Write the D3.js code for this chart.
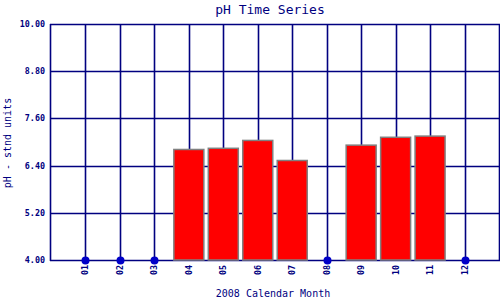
<!DOCTYPE html>
<html><head><meta charset="utf-8">
<script src="https://cdn.jsdelivr.net/npm/d3@7"></script>
<style>body{margin:0;background:#fff}svg{display:block}</style>
</head><body>
<svg id="c" width="500" height="300"></svg>
<script>
const months = ["01","02","03","04","05","06","07","08","09","10","11","12"];
const phValues = [null,null,null,6.81,6.84,7.04,6.53,null,6.92,7.12,7.15,null];
const yTicks = [4.0,5.2,6.4,7.6,8.8,10.0];
const title = "pH Time Series";
const xTitle = "2008 Calendar Month";
const yTitle = "pH - stnd units";

const svg = d3.select("#c");
const navy = "#000080";
const font = "'DejaVu Sans Mono', monospace";
const L = 50, R = 499, T = 24, B = 260;
const x = d3.scaleLinear().domain([0, 13]).range([51, R]);
const y = d3.scaleLinear().domain([4, 10]).range([B, T]);
const px = v => Math.round(v) + 0.5;
const SW = 1.6;

svg.append("rect").attr("x", L).attr("y", T).attr("width", R - L).attr("height", B - T).attr("fill", "#fff");

const g = svg.append("g");
g.selectAll("line.h").data(yTicks).join("line")
  .attr("x1", L).attr("x2", R + 1).attr("y1", d => px(y(d))).attr("y2", d => px(y(d)))
  .attr("stroke", navy).attr("stroke-width", SW);
g.selectAll("line.v").data(months.map((m, i) => i + 1)).join("line")
  .attr("x1", d => px(x(d))).attr("x2", d => px(x(d))).attr("y1", T).attr("y2", B + 1)
  .attr("stroke", navy).attr("stroke-width", SW);
g.append("line").attr("x1", L + 0.5).attr("x2", L + 0.5).attr("y1", T).attr("y2", B + 1).attr("stroke", navy).attr("stroke-width", SW);
g.append("line").attr("x1", R + 0.5).attr("x2", R + 0.5).attr("y1", T).attr("y2", B + 1).attr("stroke", navy).attr("stroke-width", SW);

const data = months.map((m, i) => ({ m, i: i + 1, v: phValues[i] }));
svg.selectAll("rect.bar").data(data.filter(d => d.v != null)).join("rect")
  .attr("class", "bar")
  .attr("x", d => x(d.i) - 15).attr("width", 30)
  .attr("y", d => y(d.v)).attr("height", d => y(4) - y(d.v))
  .attr("fill", "#ff0000").attr("stroke", "#808080").attr("stroke-width", 1.5);
svg.selectAll("circle").data(data.filter(d => d.v == null)).join("circle")
  .attr("cx", d => px(x(d.i))).attr("cy", B + 0.5).attr("r", 4).attr("fill", "#0000c8");

svg.selectAll("text.yt").data(yTicks).join("text")
  .attr("x", 45).attr("y", d => y(d)).attr("dy", "0.35em")
  .attr("text-anchor", "end").attr("font-family", font).attr("font-size", 8.4)
  .attr("font-weight", "bold").attr("fill", navy).text(d => d.toFixed(2));
svg.selectAll("text.xt").data(data).join("text")
  .attr("transform", d => `translate(${x(d.i) + 3},265) rotate(-90)`)
  .attr("text-anchor", "end").attr("font-family", font).attr("font-size", 8.4)
  .attr("font-weight", "bold").attr("fill", navy).text(d => d.m);

svg.append("text").attr("x", 270).attr("y", 14).attr("text-anchor", "middle")
  .attr("font-family", font).attr("font-size", 13).attr("fill", navy).text(title);
svg.append("text").attr("x", 273).attr("y", 297).attr("text-anchor", "middle")
  .attr("font-family", font).attr("font-size", 10).attr("fill", navy).text(xTitle);
svg.append("text").attr("transform", "translate(11,143) rotate(-90)").attr("text-anchor", "middle")
  .attr("font-family", font).attr("font-size", 10).attr("fill", navy).text(yTitle);
</script>
</body></html>
